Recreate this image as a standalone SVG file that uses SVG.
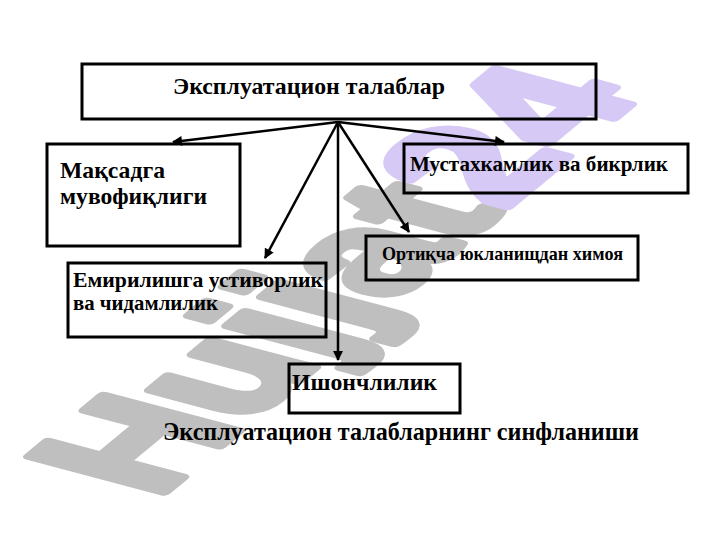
<svg xmlns="http://www.w3.org/2000/svg" width="720" height="540" viewBox="0 0 720 540">
  <style>
    .box { fill: none; stroke: #000; stroke-width: 3; }
    .conn { stroke: #000; stroke-width: 2.5; fill: none; marker-end: url(#arr); }
  </style>
  <defs>
    <marker id="arr" viewBox="0 0 10 10" refX="9" refY="5" markerWidth="4.2" markerHeight="4" markerUnits="strokeWidth" orient="auto">
      <path d="M0,0 L10,5 L0,10 Z" fill="#000"/>
    </marker>
  </defs>
  <rect width="720" height="540" fill="#fff"/>

  <g id="watermark">
    <text font-family="Liberation Sans" font-weight="bold" font-size="100" stroke-width="6" stroke-linejoin="round" transform="matrix(1.25,-1.04,1.955,0.517,156,499)"><tspan fill="#bfbfbf" stroke="#bfbfbf">Hujjat</tspan><tspan fill="#d6c9f5" stroke="#d6c9f5">24</tspan></text>
  </g>

  <g id="connectors">
    <line class="conn" x1="338" y1="122" x2="173" y2="142"/>
    <line class="conn" x1="338" y1="122" x2="504" y2="142"/>
    <line class="conn" x1="338" y1="122" x2="265" y2="258"/>
    <line class="conn" x1="338" y1="122" x2="409" y2="232"/>
    <line class="conn" x1="338" y1="122" x2="338" y2="360"/>
  </g>

  <g id="node-root">
    <rect class="box" x="82" y="64" width="514" height="55"/>
    <text font-family="Liberation Serif" font-weight="bold" x="173" y="94" font-size="24" textLength="272" lengthAdjust="spacingAndGlyphs">Эксплуатацион талаблар</text>
  </g>

  <g id="node-maqsad">
    <rect class="box" x="47" y="144" width="193" height="102"/>
    <text font-family="Liberation Serif" font-weight="bold" x="60" y="178" font-size="24" textLength="105" lengthAdjust="spacingAndGlyphs">Мақсадга</text>
    <text font-family="Liberation Serif" font-weight="bold" x="60" y="204" font-size="24" textLength="147" lengthAdjust="spacingAndGlyphs">мувофиқлиги</text>
  </g>

  <g id="node-mustahkamlik">
    <rect class="box" x="404" y="144" width="284" height="49"/>
    <text font-family="Liberation Serif" font-weight="bold" x="410" y="171" font-size="21" textLength="258" lengthAdjust="spacingAndGlyphs">Мустахкамлик ва бикрлик</text>
  </g>

  <g id="node-ortiqcha">
    <rect class="box" x="366" y="236" width="272" height="44"/>
    <text font-family="Liberation Serif" font-weight="bold" x="382" y="260" font-size="19" textLength="241" lengthAdjust="spacingAndGlyphs">Ортиқча юкланищдан химоя</text>
  </g>

  <g id="node-emirilish">
    <rect class="box" x="68" y="263" width="258" height="74"/>
    <text font-family="Liberation Serif" font-weight="bold" x="73" y="287" font-size="21.5" textLength="250" lengthAdjust="spacingAndGlyphs">Емирилишга устиворлик</text>
    <text font-family="Liberation Serif" font-weight="bold" x="73" y="310" font-size="21.5" textLength="145" lengthAdjust="spacingAndGlyphs">ва чидамлилик</text>
  </g>

  <g id="node-ishonch">
    <rect class="box" x="289" y="364" width="171" height="49"/>
    <text font-family="Liberation Serif" font-weight="bold" x="292" y="390" font-size="23.5" textLength="145" lengthAdjust="spacingAndGlyphs">Ишончлилик</text>
  </g>

  <g id="caption">
    <text font-family="Liberation Serif" font-weight="bold" x="163" y="440" font-size="24.5" textLength="476" lengthAdjust="spacingAndGlyphs">Эксплуатацион талабларнинг синфланиши</text>
  </g>
</svg>
